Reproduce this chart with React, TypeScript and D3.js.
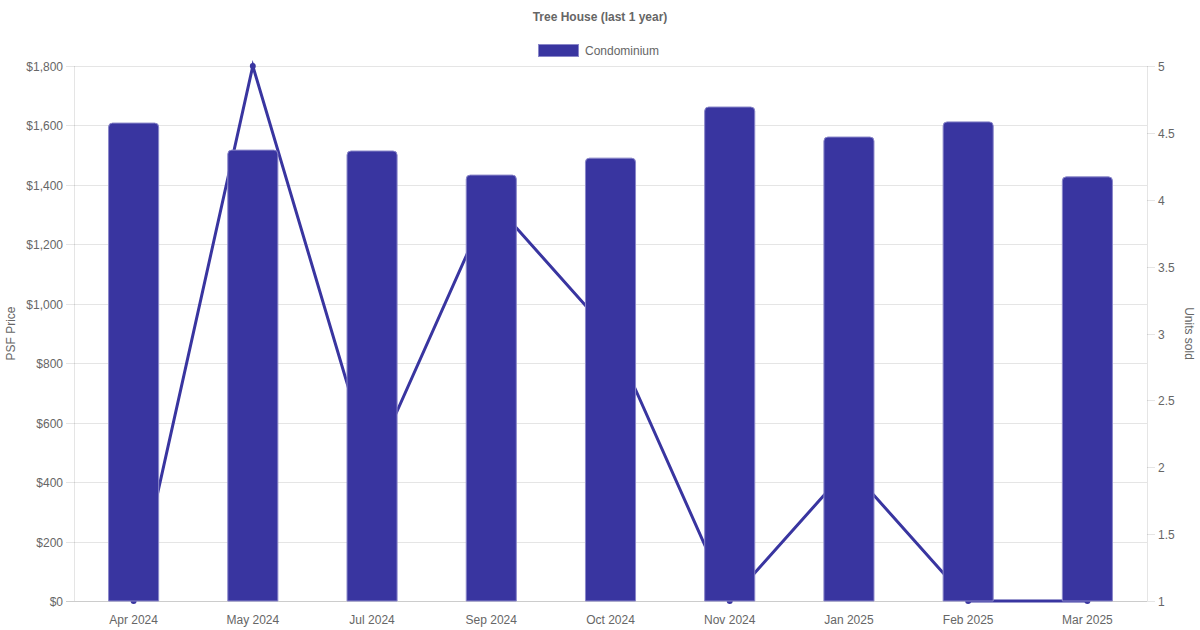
import React, { useEffect, useRef } from 'react';
import * as d3 from 'd3';

const months = ['Apr 2024', 'May 2024', 'Jul 2024', 'Sep 2024', 'Oct 2024', 'Nov 2024', 'Jan 2025', 'Feb 2025', 'Mar 2025'];
const psfPrice = [1608, 1517, 1514, 1433, 1490, 1662, 1561, 1612, 1427];
const unitsSold = [1, 5, 2, 4, 3, 1, 2, 1, 1];
const priceTicks = [0, 200, 400, 600, 800, 1000, 1200, 1400, 1600, 1800];
const unitTicks = [1, 1.5, 2, 2.5, 3, 3.5, 4, 4.5, 5];

const W = 1200;
const H = 630;
const FONT = "'Helvetica Neue', Helvetica, Arial, 'Liberation Sans', sans-serif";
const TEXT = '#666';
const BAR = '#3935a0';
const BAR_EDGE = '#8a87c9';
const GRID = 'rgba(0,0,0,0.1)';

const App: React.FC = () => {
  const svgRef = useRef<SVGSVGElement>(null);

  useEffect(() => {
    if (!svgRef.current) return;
    const svg = d3.select(svgRef.current);
    svg.selectAll('*').remove();

    const left = 74, right = 1147, top = 66, bottom = 601;

    const x = d3.scaleBand<string>()
      .domain(months)
      .range([left, right])
      .paddingInner(0.58)
      .paddingOuter(0.29);
    const yPrice = d3.scaleLinear().domain([0, 1800]).range([bottom, top]);
    const yUnits = d3.scaleLinear().domain([1, 5]).range([bottom, top]);

    // title
    svg.append('text')
      .attr('x', W / 2).attr('y', 21)
      .attr('text-anchor', 'middle')
      .style('font-family', FONT).style('font-size', '12px').style('font-weight', 'bold')
      .style('fill', TEXT)
      .text('Tree House (last 1 year)');

    // legend
    svg.append('rect')
      .attr('x', 538.5).attr('y', 44.5).attr('width', 40).attr('height', 12)
      .style('fill', BAR).style('stroke', BAR_EDGE).style('stroke-width', 1);
    svg.append('text')
      .attr('x', 585).attr('y', 54.5)
      .style('font-family', FONT).style('font-size', '12px').style('fill', TEXT)
      .text('Condominium');

    // left grid + ticks
    const gridG = svg.append('g');
    priceTicks.forEach(t => {
      const y = Math.round(yPrice(t)) + 0.5;
      gridG.append('line')
        .attr('x1', left - 8).attr('x2', right).attr('y1', y).attr('y2', y)
        .style('stroke', t === 0 ? 'rgba(0,0,0,0.2)' : GRID).style('stroke-width', 1);
      gridG.append('text')
        .attr('x', left - 11).attr('y', y + 4)
        .attr('text-anchor', 'end')
        .style('font-family', FONT).style('font-size', '12px').style('fill', TEXT)
        .text(t === 0 ? '$0' : '$' + d3.format(',')(t));
    });

    // axis lines
    gridG.append('line')
      .attr('x1', left + 0.5).attr('x2', left + 0.5).attr('y1', top).attr('y2', bottom)
      .style('stroke', GRID);
    gridG.append('line')
      .attr('x1', right + 0.5).attr('x2', right + 0.5).attr('y1', top).attr('y2', bottom)
      .style('stroke', GRID);

    // right ticks
    unitTicks.forEach(t => {
      const y = Math.round(yUnits(t)) + 0.5;
      gridG.append('line')
        .attr('x1', right).attr('x2', right + 8).attr('y1', y).attr('y2', y)
        .style('stroke', GRID);
      gridG.append('text')
        .attr('x', right + 11).attr('y', y + 4)
        .style('font-family', FONT).style('font-size', '12px').style('fill', TEXT)
        .text(String(t));
    });

    // x labels
    months.forEach(m => {
      svg.append('text')
        .attr('x', x(m)! + x.bandwidth() / 2).attr('y', 624)
        .attr('text-anchor', 'middle')
        .style('font-family', FONT).style('font-size', '12px').style('fill', TEXT)
        .text(m);
    });

    // axis titles
    svg.append('text')
      .attr('transform', `translate(15,${(top + bottom) / 2}) rotate(-90)`)
      .attr('text-anchor', 'middle')
      .style('font-family', FONT).style('font-size', '12px').style('fill', TEXT)
      .text('PSF Price');
    svg.append('text')
      .attr('transform', `translate(1185,${(top + bottom) / 2}) rotate(90)`)
      .attr('text-anchor', 'middle')
      .style('font-family', FONT).style('font-size', '12px').style('fill', TEXT)
      .text('Units sold');

    // line (drawn behind bars)
    const line = d3.line<number>()
      .x((_, i) => x(months[i])! + x.bandwidth() / 2)
      .y(d => yUnits(d));
    svg.append('path')
      .datum(unitsSold)
      .attr('d', line)
      .style('fill', 'none').style('stroke', BAR).style('stroke-width', 3);
    svg.selectAll('circle.pt')
      .data(unitsSold)
      .enter().append('circle')
      .attr('class', 'pt')
      .attr('cx', (_, i) => x(months[i])! + x.bandwidth() / 2)
      .attr('cy', d => yUnits(d))
      .attr('r', 3)
      .style('fill', BAR);

    // bars with rounded top corners
    const r = 4;
    psfPrice.forEach((v, i) => {
      const x0 = x(months[i])!;
      const w = x.bandwidth();
      const y0 = yPrice(v);
      const y1 = yPrice(0);
      const p = `M${x0},${y1} L${x0},${y0 + r} Q${x0},${y0} ${x0 + r},${y0} L${x0 + w - r},${y0} Q${x0 + w},${y0} ${x0 + w},${y0 + r} L${x0 + w},${y1} Z`;
      svg.append('path')
        .attr('d', p)
        .style('fill', BAR).style('stroke', BAR_EDGE).style('stroke-width', 1);
    });
  }, []);

  return (
    <div style={{ position: 'absolute', left: 0, top: 0 }}>
      <svg ref={svgRef} width={W} height={H} style={{ display: 'block', background: '#fff' }} />
    </div>
  );
};

export default App;
